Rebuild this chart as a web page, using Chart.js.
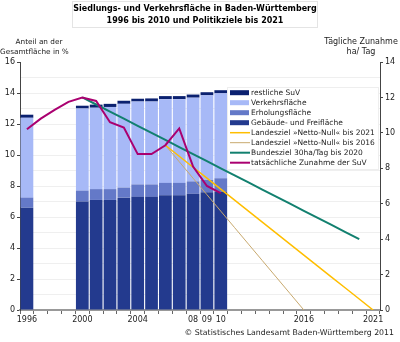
<!DOCTYPE html>
<html>
<head>
<meta charset="utf-8">
<script src="https://cdn.jsdelivr.net/npm/chart.js@4.4.1/dist/chart.umd.min.js"></script>
<style>
  body { margin: 0; background: #fff; }
</style>
</head>
<body>
<canvas id="chart" width="400" height="342"></canvas>
<script>
// Jahre auf der x-Achse
const years = ['1996','1997','1998','1999','2000','2001','2002','2003','2004','2005','2006','2007','2008','2009','2010',
  '2011','2012','2013','2014','2015','2016','2017','2018','2019','2020','2021'];
const tickLabels = ['1996','','','','2000','','','','2004','','','','08','09','10',
  '','','','','','2016','','','','','2021'];

// Flächenanteile in % (gestapelt)
const gebaeude  = [6.6, null, null, null, 7.0, 7.1, 7.1, 7.25, 7.3, 7.3, 7.4, 7.4, 7.5, 7.6, 7.65];
const erholung  = [0.65, null, null, null, 0.7, 0.7, 0.7, 0.65, 0.8, 0.8, 0.8, 0.8, 0.8, 0.8, 0.85];
const verkehr   = [5.15, null, null, null, 5.3, 5.25, 5.3, 5.4, 5.35, 5.35, 5.4, 5.4, 5.4, 5.45, 5.48];
const restliche = [0.2, null, null, null, 0.18, 0.2, 0.2, 0.2, 0.18, 0.2, 0.2, 0.2, 0.2, 0.2, 0.2];

// Tägliche Zunahme in ha/Tag
const zunahme = [10.2, 10.8, 11.3, 11.75, 12.0, 11.8, 10.6, 10.3, 8.8, 8.8, 9.3, 10.25, 8.1, 7.0, 6.6];
const bund2020 = [null, null, null, null, 12.0, 11.6, 11.2, 10.8, 10.4, 10.0, 9.6, 9.2, 8.8, 8.4, 8.0,
  7.6, 7.2, 6.8, 6.4, 6.0, 5.6, 5.2, 4.8, 4.4, 4.0];
const land2021 = [null, null, null, null, null, null, null, null, null, null, 9.3, 8.68, 8.06, 7.44, 6.82,
  6.2, 5.58, 4.96, 4.34, 3.72, 3.1, 2.48, 1.86, 1.24, 0.62, 0];
const land2016 = [null, null, null, null, null, null, null, null, null, null, 9.3, 8.37, 7.44, 6.51, 5.58,
  4.65, 3.72, 2.79, 1.86, 0.93, 0];

const FONT = 'DejaVu Sans';

// Legende in der gezeigten Reihenfolge
const legendItems = [
  { label: 'restliche SuV', color: '#0B2170', box: true },
  { label: 'Verkehrsfläche', color: '#A7B9F7', box: true },
  { label: 'Erholungsfläche', color: '#6479C8', box: true },
  { label: 'Gebäude- und Freifläche', color: '#233A8E', box: true },
  { label: 'Landesziel »Netto-Null« bis 2021', color: '#FFBE00', width: 1.5 },
  { label: 'Landesziel »Netto-Null« bis 2016', color: '#C8A96E', width: 1 },
  { label: 'Bundesziel 30ha/Tag bis 2020', color: '#12806F', width: 2 },
  { label: 'tatsächliche Zunahme der SuV', color: '#AA0070', width: 2 }
];

const textPlugin = {
  id: 'texts',
  afterDraw(chart) {
    const ctx = chart.ctx;
    ctx.save();
    // Titel
    ctx.strokeStyle = '#e4e4e4';
    ctx.lineWidth = 1;
    ctx.strokeRect(72.5, 1.5, 245, 26);
    ctx.fillStyle = '#000';
    ctx.font = 'bold 8px ' + FONT;
    ctx.textAlign = 'center';
    ctx.textBaseline = 'middle';
    ctx.fillText('Siedlungs- und Verkehrsfläche in Baden-Württemberg', 195, 9);
    ctx.fillText('1996 bis 2010 und Politikziele bis 2021', 195, 21);

    // Achsentitel
    ctx.font = '8px ' + FONT;
    ctx.fillStyle = '#222';
    ctx.fillText('Tägliche Zunahme', 361, 42);
    ctx.fillText('ha/ Tag', 361, 52);
    ctx.font = '7.3px ' + FONT;
    ctx.fillText('Anteil an der', 39, 42);
    ctx.textAlign = 'left';
    ctx.fillText('Gesamtfläche in %', 0, 52);

    // Quelle
    ctx.font = '7.8px ' + FONT;
    ctx.textAlign = 'right';
    ctx.fillText('© Statistisches Landesamt Baden-Württemberg 2011', 394, 333);

    // Legende
    ctx.fillStyle = '#fff';
    ctx.fillRect(227, 87, 151, 82);
    ctx.strokeStyle = '#eeeeee';
    ctx.strokeRect(227.5, 87.5, 151, 82);
    ctx.textAlign = 'left';
    ctx.font = '7.5px ' + FONT;
    legendItems.forEach((it, i) => {
      const y = 92.7 + i * 10;
      if (it.box) {
        ctx.fillStyle = it.color;
        ctx.fillRect(230, y - 2.5, 19, 5);
      } else {
        ctx.strokeStyle = it.color;
        ctx.lineWidth = it.width;
        ctx.beginPath();
        ctx.moveTo(230, y);
        ctx.lineTo(250, y);
        ctx.stroke();
      }
      ctx.fillStyle = '#222';
      ctx.fillText(it.label, 251, y + 0.5);
    });
    ctx.restore();
  }
};

const ctx = document.getElementById('chart').getContext('2d');

new Chart(ctx, {
  type: 'bar',
  data: {
    labels: years,
    datasets: [
      { label: 'Gebäude- und Freifläche', data: gebaeude, backgroundColor: '#233A8E', yAxisID: 'y', order: 10 },
      { label: 'Erholungsfläche', data: erholung, backgroundColor: '#6479C8', yAxisID: 'y', order: 10 },
      { label: 'Verkehrsfläche', data: verkehr, backgroundColor: '#A7B9F7', yAxisID: 'y', order: 10 },
      { label: 'restliche SuV', data: restliche, backgroundColor: '#0B2170', yAxisID: 'y', order: 10 },
      { type: 'line', label: 'Landesziel »Netto-Null« bis 2016', data: land2016, borderColor: '#C8A96E',
        borderWidth: 1, yAxisID: 'y1', order: 4 },
      { type: 'line', label: 'Landesziel »Netto-Null« bis 2021', data: land2021, borderColor: '#FFBE00',
        borderWidth: 1.5, yAxisID: 'y1', order: 3 },
      { type: 'line', label: 'Bundesziel 30ha/Tag bis 2020', data: bund2020, borderColor: '#12806F',
        borderWidth: 2, yAxisID: 'y1', order: 2 },
      { type: 'line', label: 'tatsächliche Zunahme der SuV', data: zunahme, borderColor: '#AA0070',
        borderWidth: 2, yAxisID: 'y1', order: 1 }
    ]
  },
  options: {
    responsive: false,
    animation: false,
    layout: { padding: { top: 62, left: 0, right: 0, bottom: 0 } },
    datasets: {
      bar: { categoryPercentage: 1, barPercentage: 0.92 },
      line: { pointRadius: 0, tension: 0, fill: false, spanGaps: false }
    },
    plugins: {
      legend: { display: false },
      title: { display: false },
      tooltip: { enabled: false }
    },
    scales: {
      x: {
        stacked: true,
        offset: true,
        grid: { drawOnChartArea: false, tickLength: 4, color: '#666', offset: true },
        border: { color: '#999', width: 2 },
        ticks: {
          autoSkip: false, maxRotation: 0, padding: 1,
          font: { family: FONT, size: 8 }, color: '#222',
          callback: (v, i) => tickLabels[i]
        },
        afterFit: s => { s.height = 32; }
      },
      y: {
        stacked: true,
        position: 'left',
        min: 0, max: 16,
        ticks: {
          stepSize: 1, padding: 2,
          font: { family: FONT, size: 8 }, color: '#222',
          callback: v => (v % 2 === 0 ? v : '')
        },
        grid: {
          color: ctx => (ctx.tick && (ctx.tick.value === 0 || ctx.tick.value === 16) ? 'rgba(0,0,0,0)' : '#efefef'),
          tickColor: ctx => (ctx.tick && ctx.tick.value % 2 === 0 ? '#444' : 'rgba(0,0,0,0)'),
          tickLength: 3
        },
        border: { color: '#444', width: 1 },
        afterFit: s => { s.width = 20; }
      },
      y1: {
        position: 'right',
        min: 0, max: 14,
        ticks: {
          stepSize: 2, padding: 2,
          font: { family: FONT, size: 8 }, color: '#222'
        },
        grid: { drawOnChartArea: false, tickLength: 3, tickColor: '#444' },
        border: { color: '#444', width: 1 },
        afterFit: s => { s.width = 20; }
      }
    }
  },
  plugins: [textPlugin]
});
</script>
</body>
</html>
